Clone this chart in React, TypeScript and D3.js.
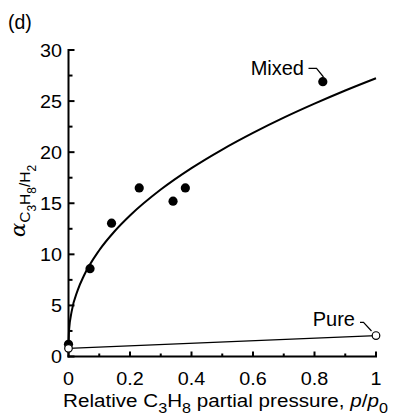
import React from "react";
import * as d3 from "d3";

const mixedX = [0, 0.07, 0.14, 0.23, 0.34, 0.38, 0.827];
const mixedY = [1.2, 8.6, 13.05, 16.5, 15.2, 16.5, 26.9];
const pureX = [0, 1];
const pureY = [0.8, 2.05];
// fitted curve
const fitX = [0, 0.002, 0.01, 0.03, 0.05, 0.1, 0.15, 0.2, 0.3, 0.4, 0.5, 0.6, 0.7, 0.8, 0.9, 1];
const fitY = [1.0, 2.64, 4.36, 6.49, 7.9, 10.4, 12.26, 13.8, 16.34, 18.44, 20.26, 21.89, 23.38, 24.75, 26.04, 27.24];
const xTickVals = [0, 0.2, 0.4, 0.6, 0.8, 1];
const xTickLabels = ["0", "0.2", "0.4", "0.6", "0.8", "1"];
const xMinor = [0.1, 0.3, 0.5, 0.7, 0.9];
const yTickVals = [0, 5, 10, 15, 20, 25, 30];
const yTickLabels = ["0", "5", "10", "15", "20", "25", "30"];
const yMinor = [2.5, 7.5, 12.5, 17.5, 22.5, 27.5];

const W = 396;
const H = 417;
const FONT = "'Liberation Sans', Arial, Helvetica, sans-serif";
const SX = 1.07;
const SX_LABEL = 1.115;

export default function App() {
  const x = d3.scaleLinear().domain([0, 1]).range([68.5, 376]);
  const y = d3.scaleLinear().domain([0, 30]).range([356.5, 50]);

  const fitLine = d3
    .line<number>()
    .x((_, i) => x(fitX[i]))
    .y((d) => y(d))
    .curve(d3.curveMonotoneX)(fitY) as string;

  const pureLine = d3
    .line<number>()
    .x((_, i) => x(pureX[i]))
    .y((d) => y(d))(pureY) as string;

  const tr = (px: number, py: number, s = SX) => `translate(${px},${py}) scale(${s},1)`;

  return (
    <svg
      width={W}
      height={H}
      style={{ position: "absolute", left: 0, top: 0, background: "#fff" }}
      fontFamily={FONT}
    >
      <text x={8} y={29} fontSize={19.5}>(d)</text>

      {/* axes */}
      <line x1={x(0)} x2={x(0)} y1={y(30) - 1} y2={y(0) + 1} stroke="#000" strokeWidth={2} />
      <line x1={x(0) - 1} x2={x(1) + 1} y1={y(0)} y2={y(0)} stroke="#000" strokeWidth={2} />

      {yTickVals.map((v, i) => (
        <g key={"yt" + v}>
          <line x1={x(0)} x2={x(0) + 6} y1={y(v)} y2={y(v)} stroke="#000" strokeWidth={2} />
          <text transform={tr(62, y(v) + 6.6)} fontSize={18.5} textAnchor="end">{yTickLabels[i]}</text>
        </g>
      ))}
      {yMinor.map((v) => (
        <line key={"ym" + v} x1={x(0)} x2={x(0) + 4} y1={y(v)} y2={y(v)} stroke="#000" strokeWidth={2} />
      ))}
      {xTickVals.map((v, i) => (
        <g key={"xt" + v}>
          <line x1={x(v)} x2={x(v)} y1={y(0)} y2={y(0) - 5} stroke="#000" strokeWidth={2} />
          <text transform={tr(x(v), 385)} fontSize={18.5} textAnchor="middle">{xTickLabels[i]}</text>
        </g>
      ))}
      {xMinor.map((v) => (
        <line key={"xm" + v} x1={x(v)} x2={x(v)} y1={y(0)} y2={y(0) - 3} stroke="#000" strokeWidth={2} />
      ))}

      {/* x label */}
      <text transform={tr(225.5, 406.5, SX_LABEL)} fontSize={18.5} textAnchor="middle">
        Relative C<tspan fontSize={14.5} dy={6}>3</tspan>
        <tspan dy={-6}>H</tspan>
        <tspan fontSize={14.5} dy={6}>8</tspan>
        <tspan dy={-6}> partial pressure, </tspan>
        <tspan fontStyle="italic">p</tspan>/<tspan fontStyle="italic">p</tspan>
        <tspan fontSize={14.5} dy={6}>0</tspan>
      </text>

      {/* y label */}
      <text transform="translate(25,237) rotate(-90)" fontSize={15.5}>
        <tspan fontFamily="'DejaVu Serif', 'Liberation Serif', serif" fontStyle="italic" fontSize={21}>α</tspan>
        <tspan dy={5}>C</tspan>
        <tspan fontSize={12} dy={6}>3</tspan>
        <tspan dy={-6}>H</tspan>
        <tspan fontSize={12} dy={6}>8</tspan>
        <tspan dy={-6}>/H</tspan>
        <tspan fontSize={12} dy={6}>2</tspan>
      </text>

      {/* lines */}
      <path d={fitLine} fill="none" stroke="#000" strokeWidth={2} />
      <path d={pureLine} fill="none" stroke="#000" strokeWidth={1.3} />

      {mixedX.map((v, i) => (
        <circle key={"m" + i} cx={x(v)} cy={y(mixedY[i])} r={4.6} fill="#000" />
      ))}
      {pureX.map((v, i) => (
        <circle key={"p" + i} cx={x(v)} cy={y(pureY[i])} r={3.8} fill="#fff" stroke="#000" strokeWidth={1.2} />
      ))}

      {/* annotations */}
      <text x={304} y={75} fontSize={20} textAnchor="end">Mixed</text>
      <polyline points="308.5,68.3 316.5,68.3 323.5,77" fill="none" stroke="#000" strokeWidth={1.2} />
      <text x={355} y={326} fontSize={20} textAnchor="end">Pure</text>
      <polyline points="360,322.3 363.5,322.3 371.5,331" fill="none" stroke="#000" strokeWidth={1.2} />
    </svg>
  );
}
